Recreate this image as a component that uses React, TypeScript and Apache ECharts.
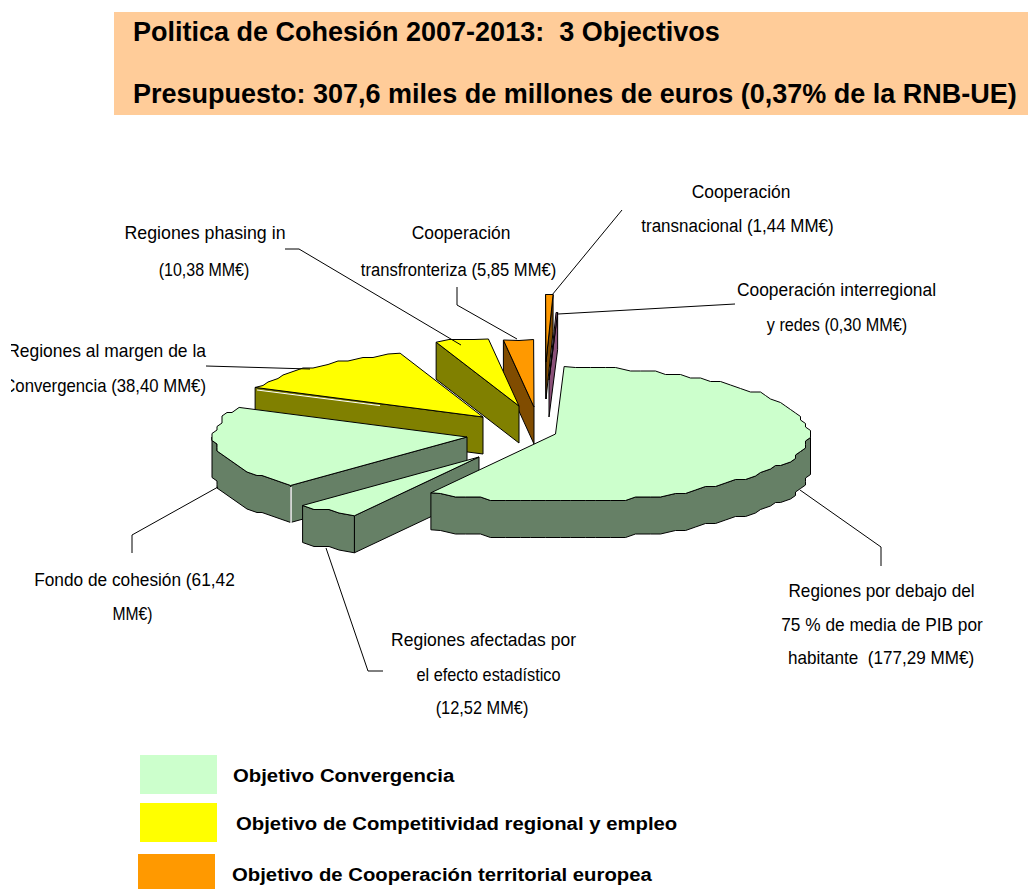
import React, { useEffect, useRef } from "react";
import * as echarts from "echarts";

// ---- data (clockwise from the top of the pie) ----
const sliceNames = [
  "Regiones por debajo del 75 % de media de PIB por habitante",
  "Regiones afectadas por el efecto estadístico",
  "Fondo de cohesión",
  "Regiones al margen de la Convergencia",
  "Regiones phasing in",
  "Cooperación transfronteriza",
  "Cooperación transnacional",
  "Cooperación interregional y redes",
];
const sliceValues = [177.29, 12.52, 61.42, 38.4, 10.38, 5.85, 1.44, 0.3];
const sliceObjective = [0, 0, 0, 1, 1, 2, 2, 3];
const titleLines = [
  "Politica de Cohesión 2007-2013:  3 Objectivos",
  "Presupuesto: 307,6 miles de millones de euros (0,37% de la RNB-UE)",
];
const legendLabels = [
  "Objetivo Convergencia",
  "Objetivo de Competitividad regional y empleo",
  "Objetivo de Cooperación territorial europea",
];

// ---- styles and layout ----
const topColors = ["#CCFFCC", "#FFFF00", "#FF9900", "#A0608C"];
const wallColors = ["#668066", "#808000", "#804C00", "#8A5078"];
const START_DEG = 1.95;
const RX = 253.5;
const RY = 67.5;
const DEPTH = 37;
// where each exploded slice's apex sits on the page
const sliceApex = [
  [555.5, 434], [479, 457], [467, 437], [483, 417], [519, 406], [534, 407], [546, 362], [549, 380],
];
const drawOrder = [7, 6, 5, 4, 3, 2, 1, 0];

const labelFont = "Liberation Sans, Arial, sans-serif";
const labels: [string, number, number, string, number][] = [
  ["Cooperación", 741, 192, "center", 0.968],
  ["transnacional (1,44 MM€)", 737.5, 226, "center", 0.943],
  ["Cooperación interregional", 836.5, 290, "center", 0.966],
  ["y redes (0,30 MM€)", 837, 325, "center", 0.9],
  ["Regiones phasing in", 205, 233, "center", 0.988],
  ["(10,38 MM€)", 204, 270, "center", 0.889],
  ["Cooperación", 461, 233, "center", 0.968],
  ["transfronteriza (5,85 MM€)", 458.5, 270, "center", 0.922],
  ["Regiones al margen de la", 206, 351, "right", 0.97],
  ["Convergencia (38,40 MM€)", 206, 386, "right", 0.93],
  ["Fondo de cohesión (61,42", 134.5, 580, "center", 0.96],
  ["MM€)", 132.5, 614, "center", 0.87],
  ["Regiones afectadas por", 483.5, 640, "center", 0.973],
  ["el efecto estadístico", 488.5, 675, "center", 0.906],
  ["(12,52 MM€)", 482, 708, "center", 0.91],
  ["Regiones por debajo del", 881.5, 591, "center", 0.955],
  ["75 % de media de PIB por", 882, 625, "center", 0.96],
  ["habitante  (177,29 MM€)", 881, 658, "center", 0.95],
];
const leaders: number[][][] = [
  [[622, 210], [552, 295]],
  [[735, 304], [558, 314]],
  [[285, 249], [299, 249], [461, 345]],
  [[457, 287], [457, 305], [517, 339]],
  [[206, 366], [310, 369]],
  [[132, 553], [132, 535], [218, 487]],
  [[326, 548], [368, 671], [383, 671]],
  [[800, 490], [881, 547], [881, 566]],
];
// thin white seams that the reference shows between top and wall
const seams: [number[][], number][] = [
  [[[291, 487], [291, 523]], 1.5],
  [[[257, 390], [380, 405.6]], 1],
];

const total = sliceValues.reduce((a, b) => a + b, 0);
const startAngles: number[] = [];
sliceValues.reduce((acc, v, i) => {
  startAngles[i] = acc;
  return acc + (v / total) * 360;
}, START_DEG);

const sinD = (d: number) => Math.sin((d * Math.PI) / 180);

// rim point at clockwise angle `deg` from the top; the rim of the original is coarse, so snap to a grid
function rim(deg: number, snap: boolean): number[] {
  const r = (deg * Math.PI) / 180;
  const x = RX * Math.sin(r);
  const y = -RY * Math.cos(r);
  return snap ? [Math.round(x / 5) * 5, Math.round(y / 3.5) * 3.5] : [x, y];
}
function rimPoints(a0: number, a1: number): number[][] {
  const out: number[][] = [rim(a0, false)];
  const n = Math.max(1, Math.floor((a1 - a0) / 3));
  for (let k = 1; k < n; k++) out.push(rim(a0 + ((a1 - a0) * k) / n, true));
  out.push(rim(a1, false));
  return out;
}

function renderSlice(_p: any, api: any) {
  const i = api.value(0);
  const value = api.value(1);
  const a0 = startAngles[i];
  const a1 = a0 + (value / total) * 360;
  const [ax, ay] = sliceApex[i];
  const obj = sliceObjective[i];
  const style = (fill: string) => ({ fill, stroke: "#000", lineWidth: 1, lineJoin: "round" });
  const rimPts = rimPoints(a0, a1).map(([x, y]) => [ax + x, ay + y]);
  const down = (p: number[]) => [p[0], p[1] + DEPTH];
  const children: any[] = [];
  const poly = (points: number[][], fill: string) =>
    children.push({ type: "polygon", shape: { points }, style: style(fill), silent: true });
  const apex = [ax, ay];
  const first = rimPts[0];
  const last = rimPts[rimPts.length - 1];
  // radial faces: only those that look towards the viewer
  if (sinD(a0) < 0) poly([apex, first, down(first), down(apex)], wallColors[obj]);
  if (sinD(a1) > 0) poly([apex, last, down(last), down(apex)], wallColors[obj]);
  // outer wall: only the part of the rim on the viewer's side
  const front: number[][] = [];
  rimPoints(a0, a1).forEach(([x, y]) => {
    if (y >= -0.5) front.push([ax + x, ay + y]);
  });
  if (front.length > 1) poly([...front, ...front.slice().reverse().map(down)], wallColors[obj]);
  poly([apex, ...rimPts], topColors[obj]);
  return { type: "group", children };
}

export default function App() {
  const ref = useRef<HTMLDivElement>(null);
  useEffect(() => {
    document.body.style.margin = "0";
    const chart = echarts.init(ref.current!, undefined, { renderer: "svg" });
    const legendText = (i: number, x: number, y: number) => ({
      type: "text", z: 2, x, y, scaleX: 1.07,
      style: { text: legendLabels[i], font: `bold 19px ${labelFont}`, fill: "#000", verticalAlign: "middle" },
    });
    const graphic: any[] = [
      { type: "rect", z: 1, silent: true, shape: { x: 114, y: 12, width: 914, height: 103 }, style: { fill: "#FFCC99" } },
      { type: "text", z: 2, x: 133, y: 32, style: { text: titleLines[0], font: `bold 27px ${labelFont}`, fill: "#000", verticalAlign: "middle" } },
      { type: "text", z: 2, x: 133, y: 94, style: { text: titleLines[1], font: `bold 27px ${labelFont}`, fill: "#000", verticalAlign: "middle" } },
      { type: "rect", z: 1, silent: true, shape: { x: 140, y: 755, width: 77, height: 39 }, style: { fill: "#CCFFCC" } },
      { type: "rect", z: 1, silent: true, shape: { x: 140, y: 803, width: 77, height: 39 }, style: { fill: "#FFFF00" } },
      { type: "rect", z: 1, silent: true, shape: { x: 138, y: 854, width: 77, height: 35 }, style: { fill: "#FF9900" } },
      legendText(0, 233, 775),
      legendText(1, 236, 823),
      legendText(2, 232, 874),
      ...labels.map(([text, x, y, align, sx]) => ({
        type: "text", z: 2, x, y, scaleX: sx,
        style: { text, font: `18px ${labelFont}`, fill: "#000", textAlign: align, verticalAlign: "middle" },
      })),
      ...leaders.map((points) => ({
        type: "polyline", z: 6, silent: true, shape: { points },
        style: { stroke: "#000", lineWidth: 1, fill: "none" },
      })),
      ...seams.map(([points, lineWidth]) => ({
        type: "polyline", z: 6, silent: true, shape: { points },
        style: { stroke: "#fff", lineWidth, fill: "none" },
      })),
      { type: "rect", z: 3, silent: true, shape: { x: 0, y: 335, width: 11, height: 70 }, style: { fill: "#fff" } },
    ];
    chart.setOption({
      animation: false,
      backgroundColor: "#fff",
      graphic,
      series: [
        {
          type: "custom",
          coordinateSystem: "none",
          renderItem: renderSlice,
          silent: true,
          z: 5,
          encode: { value: 1, itemName: 2 },
          data: drawOrder.map((i) => [i, sliceValues[i], sliceNames[i]]),
        },
      ],
    });
    return () => chart.dispose();
  }, []);
  return <div ref={ref} style={{ position: "absolute", left: 0, top: 0, width: 1028, height: 889 }} />;
}
